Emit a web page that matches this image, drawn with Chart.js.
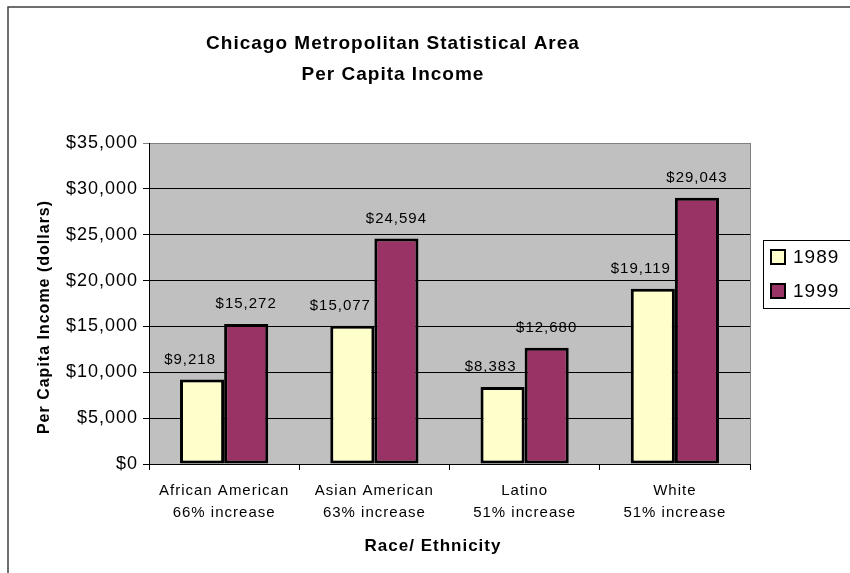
<!DOCTYPE html>
<html>
<head>
<meta charset="utf-8">
<title>Chicago MSA Per Capita Income</title>
<script src="https://cdn.jsdelivr.net/npm/chart.js@4.4.1/dist/chart.umd.min.js"></script>
<style>
  html, body { margin: 0; padding: 0; background: #fff; }
  #wrap { width: 850px; height: 573px; }
</style>
</head>
<body>
<div id="wrap"><canvas id="incomeChart" width="850" height="573"></canvas></div>
<script>
// dados
const categories = [
    ['African American', '66% increase'],
    ['Asian American', '63% increase'],
    ['Latino', '51% increase'],
    ['White', '51% increase']
];
const income1989 = [9218, 15077, 8383, 19119];
const income1999 = [15272, 24594, 12680, 29043];
const seriesNames = ['1989', '1999'];
const yTicks = [0, 5000, 10000, 15000, 20000, 25000, 30000, 35000];

const titleLines = ['Chicago Metropolitan Statistical Area', 'Per Capita Income'];
const yTitle = 'Per Capita Income (dollars)';
const xTitle = 'Race/ Ethnicity';

const FONT = "'Liberation Sans', Arial, sans-serif";

function money(v) {
    return '$' + Number(v).toLocaleString('en-US');
}

/**
 * Fundo, moldura, títulos e legenda
 */
const decorPlugin = {
    id: 'decor',
    beforeDraw(chart) {
        const c = chart.ctx;
        const a = chart.chartArea;
        c.save();
        c.fillStyle = '#ffffff';
        c.fillRect(0, 0, chart.width, chart.height);
        // moldura externa
        c.strokeStyle = '#404040';
        c.lineWidth = 1.5;
        c.strokeRect(8, 7, 900, 700);
        // área do gráfico
        c.fillStyle = '#c0c0c0';
        c.fillRect(a.left, a.top, a.right - a.left, a.bottom - a.top);
        c.restore();
        // texto do Excel é mais espaçado
        c.letterSpacing = '1px';
    },
    afterDraw(chart) {
        const c = chart.ctx;
        const a = chart.chartArea;
        c.save();
        c.letterSpacing = '1px';
        // borda direita da área
        c.strokeStyle = '#808080';
        c.lineWidth = 1;
        c.beginPath();
        c.moveTo(a.right + 0.5, a.top);
        c.lineTo(a.right + 0.5, a.bottom);
        c.stroke();

        // título
        c.fillStyle = '#000';
        c.textAlign = 'center';
        c.textBaseline = 'middle';
        c.font = 'bold 19px ' + FONT;
        c.fillText(titleLines[0], 393, 44);
        c.fillText(titleLines[1], 393, 75);

        // título eixo x
        c.font = 'bold 17px ' + FONT;
        c.fillText(xTitle, 433, 546);

        // título eixo y
        c.save();
        c.translate(45, 317);
        c.rotate(-Math.PI / 2);
        c.font = 'bold 16px ' + FONT;
        c.fillText(yTitle, 0, 0);
        c.restore();

        // legenda
        c.strokeStyle = '#000';
        c.lineWidth = 1;
        c.strokeRect(763.5, 240.5, 120, 68);
        c.font = '19px ' + FONT;
        c.textAlign = 'left';
        chart.data.datasets.forEach(function (ds, i) {
            const y = 257 + i * 34;
            c.fillStyle = ds.backgroundColor;
            c.fillRect(771, y - 7, 14, 14);
            c.strokeStyle = '#000';
            c.lineWidth = 2;
            c.strokeRect(771, y - 7, 14, 14);
            c.fillStyle = '#000';
            c.fillText(ds.label, 793, y + 1);
        });
        c.restore();
    }
};

/**
 * Rótulos de valor acima das barras
 */
const valueLabels = {
    id: 'valueLabels',
    afterDatasetsDraw(chart) {
        const c = chart.ctx;
        c.save();
        c.letterSpacing = '1px';
        c.font = '15px ' + FONT;
        c.fillStyle = '#000';
        c.textAlign = 'center';
        c.textBaseline = 'middle';
        chart.data.datasets.forEach(function (ds, i) {
            const meta = chart.getDatasetMeta(i);
            const shift = i === 0 ? -12 : 0;
            meta.data.forEach(function (bar, j) {
                c.fillText(money(ds.data[j]), bar.x + shift, bar.y - 20);
            });
        });
        c.restore();
    }
};

const ctx = document.getElementById('incomeChart').getContext('2d');
new Chart(ctx, {
    type: 'bar',
    data: {
        labels: categories,
        datasets: [{
            label: seriesNames[0],
            data: income1989,
            backgroundColor: '#ffffcc',
            borderColor: '#000',
            borderWidth: 3,
            borderSkipped: false
        }, {
            label: seriesNames[1],
            data: income1999,
            backgroundColor: '#993366',
            borderColor: '#000',
            borderWidth: 3,
            borderSkipped: false
        }]
    },
    options: {
        responsive: false,
        animation: false,
        layout: {
            padding: { left: 0, top: 143, right: 100, bottom: 0 }
        },
        plugins: {
            legend: { display: false },
            title: { display: false },
            tooltip: { enabled: false }
        },
        datasets: {
            bar: { categoryPercentage: 0.587, barPercentage: 1.0 }
        },
        scales: {
            x: {
                afterFit: function (scale) { scale.height = 109; },
                grid: {
                    offset: true,
                    drawOnChartArea: false,
                    color: '#000',
                    tickLength: 6
                },
                border: { color: '#000', width: 1 },
                ticks: {
                    color: '#000',
                    padding: 10,
                    font: { family: FONT, size: 15, lineHeight: 1.45 }
                }
            },
            y: {
                min: 0,
                max: 35000,
                afterFit: function (scale) { scale.width = 149; },
                afterBuildTicks: function (scale) {
                    scale.ticks = yTicks.map(v => ({ value: v }));
                },
                grid: {
                    color: function (c) {
                        return c.tick && c.tick.value === 35000 ? '#808080' : '#000';
                    },
                    tickLength: 6
                },
                border: { color: '#000', width: 1 },
                ticks: {
                    color: '#000',
                    padding: 5,
                    font: { family: FONT, size: 18 },
                    callback: function (v) { return money(v); }
                }
            }
        }
    },
    plugins: [decorPlugin, valueLabels]
});
</script>
</body>
</html>
